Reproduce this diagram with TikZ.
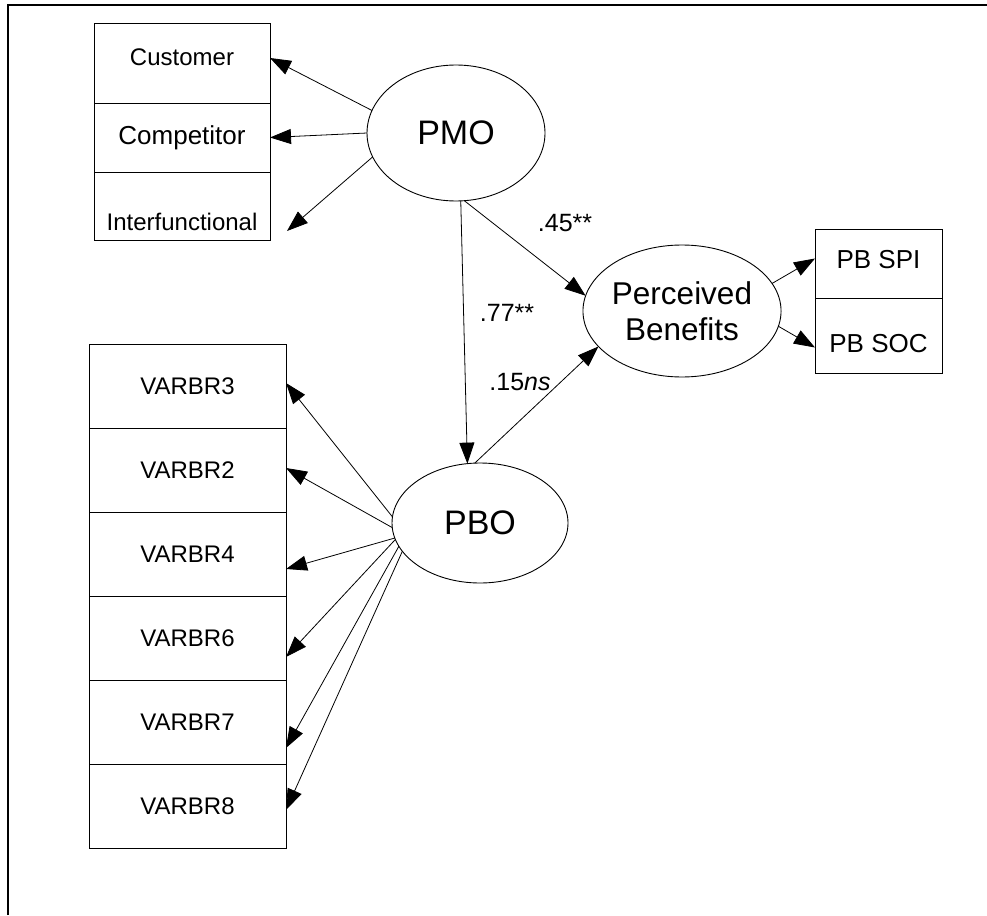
\documentclass[tikz,border=0pt]{standalone}
\usepackage{fontspec}
\setmainfont{Liberation Sans}
\usetikzlibrary{arrows.meta,shapes.geometric,positioning,calc}

\begin{document}
\begin{tikzpicture}[x=1pt,y=-1pt,
  box/.style={draw,rectangle,inner sep=0pt,outer sep=0pt,line width=0.9pt,font=\fontsize{24}{28}\selectfont},
  latent/.style={draw,ellipse,inner sep=0pt,outer sep=0pt,line width=0.9pt,font=\fontsize{34}{40}\selectfont},
  load/.style={-{Triangle[length=21pt,width=15pt]},line width=0.8pt},
  coef/.style={font=\fontsize{25}{30}\selectfont}]

\useasboundingbox (0,0) rectangle (987,915);

% the frame
\draw[line width=2pt] (8,915) -- (8,5) -- (987,5);

% the latent variables
\node[latent,minimum width=178pt,minimum height=136pt] (pmo) at (456,133) {PMO};
\node[latent,minimum width=176pt,minimum height=120pt] (pbo) at (480,523) {PBO};
\node[latent,minimum width=194pt,minimum height=132pt,align=center,
      font=\fontsize{31.5}{36}\selectfont] (pb) at (682,311) {Perceived\\Benefits};

% PMO indicators
\node[box,minimum width=176pt,minimum height=80pt,text depth=11pt] (cust) at (182,63) {Customer};
\node[box,minimum width=176pt,minimum height=69pt,font=\fontsize{26}{30}\selectfont] (comp) at (182,137.5) {Competitor};
\node[box,minimum width=176pt,minimum height=68pt,text height=50pt] (intf) at (182,206) {Interfunctional};

% PB indicators
\node[box,minimum width=127pt,minimum height=69pt,text depth=9pt,font=\fontsize{26}{30}\selectfont] (spi) at (878.5,263.5) {PB SPI};
\node[box,minimum width=127pt,minimum height=75pt,text height=34pt,font=\fontsize{26}{30}\selectfont] (soc) at (878.5,335.5) {PB SOC};

% PBO indicators
\foreach \n/\t [count=\i from 0] in {v3/VARBR3,v2/VARBR2,v4/VARBR4,v6/VARBR6,v7/VARBR7,v8/VARBR8}
   \node[box,minimum width=197pt,minimum height=84pt] (\n) at (187.5,{386+84*\i}) {\t};

% the loadings
\draw[load] (pmo.165.5) -- ([yshift=5pt]cust.east);
\draw[load] (pmo.180.7) -- (comp.east);
\draw[load] (pmo.196.8) -- ([shift={(17pt,-25pt)}]intf.east);
\draw[load] (pb.17.3) -- ([yshift=5pt]spi.west);
\draw[load] (pb.-9.5) -- ([yshift=-12pt]soc.west);
\foreach \n/\a/\s in {v3/176/3,v2/183/2,v4/190.7/-15,v6/191/-19,v7/196/-26,v8/200.4/-4}
   \draw[load] (pbo.\a) -- ([yshift=\s pt]\n.east);

% the structural paths
\draw[load] (pmo.277) -- (pb.171.5);
\draw[load] (pmo.274) -- (pbo.102.6);
\draw[load] (pbo.95) -- (pb.203.7);

% coefficients
\node[coef] (c45) at (565,223) {.45**};
\node[coef] (c77) at (507,313) {.77**};
\node[coef] (c15) at (520,382) {.15\textit{ns}};

\end{tikzpicture}
\end{document}
